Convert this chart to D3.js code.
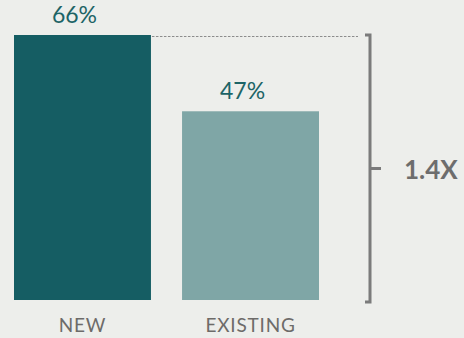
<!DOCTYPE html>
<html>
<head>
<meta charset="utf-8">
<script src="https://cdn.jsdelivr.net/npm/d3@7"></script>
<style>
  html, body { margin: 0; padding: 0; background: #edeeeb; }
  svg { display: block; font-family: Lato, "Open Sans", sans-serif; }
</style>
</head>
<body>
<div id="chart"></div>
<script>
const categories = ["NEW", "EXISTING"];
const values = [66, 47];
const valueLabels = ["66%", "47%"];
const ratioLabel = "1.4X";
const colors = ["#155d63", "#7fa6a6"];

const width = 464, height = 338;

const svg = d3.select("#chart").append("svg")
    .attr("width", width)
    .attr("height", height);

const x = d3.scaleBand()
    .domain(categories)
    .range([14, 319])
    .paddingInner(0.185)
    .paddingOuter(0);

const y = d3.scaleLinear()
    .domain([0, 66])
    .range([300, 35]);

// bars
svg.selectAll(".bar")
    .data(values)
    .enter()
    .append("rect")
    .attr("class", "bar")
    .attr("x", (d, i) => x(categories[i]))
    .attr("y", d => y(d))
    .attr("width", x.bandwidth())
    .attr("height", d => y(0) - y(d))
    .attr("fill", (d, i) => colors[i]);

// value labels
svg.selectAll(".val")
    .data(values)
    .enter()
    .append("text")
    .attr("class", "val")
    .attr("x", (d, i) => x(categories[i]) + x.bandwidth() / 2 - 8)
    .attr("y", d => y(d) - 12)
    .attr("text-anchor", "middle")
    .attr("font-size", 23)
    .attr("fill", "#1d6466")
    .text((d, i) => valueLabels[i]);

// category labels
svg.selectAll(".cat")
    .data(categories)
    .enter()
    .append("text")
    .attr("class", "cat")
    .attr("x", d => x(d) + x.bandwidth() / 2)
    .attr("y", 332)
    .attr("text-anchor", "middle")
    .attr("font-size", 19)
    .attr("letter-spacing", 0.8)
    .attr("fill", "#6d6b69")
    .text(d => d);

// dotted reference line from top of tallest bar
const topY = y(d3.max(values)) + 1.5;
svg.append("line")
    .attr("x1", x(categories[0]) + x.bandwidth() + 1)
    .attr("x2", 358)
    .attr("y1", topY)
    .attr("y2", topY)
    .attr("stroke", "#8c8c8c")
    .attr("stroke-width", 1)
    .attr("stroke-dasharray", "2.5,1.5");

// bracket
const bx = 370;
const bTop = y(d3.max(values));
const bBot = 302;
const bracket = d3.path();
bracket.moveTo(365, bTop);
bracket.lineTo(bx, bTop);
bracket.lineTo(bx, bBot);
bracket.lineTo(365, bBot);
svg.append("path")
    .attr("d", bracket.toString())
    .attr("fill", "none")
    .attr("stroke", "#7b7b7b")
    .attr("stroke-width", 3);

const midY = (bTop + bBot) / 2;
svg.append("line")
    .attr("x1", bx)
    .attr("x2", 381)
    .attr("y1", midY)
    .attr("y2", midY)
    .attr("stroke", "#7b7b7b")
    .attr("stroke-width", 3);

svg.append("text")
    .attr("x", 404)
    .attr("y", midY + 10)
    .attr("font-size", 26)
    .attr("font-weight", "bold")
    .attr("fill", "#6d6d6d")
    .text(ratioLabel);
</script>
</body>
</html>
